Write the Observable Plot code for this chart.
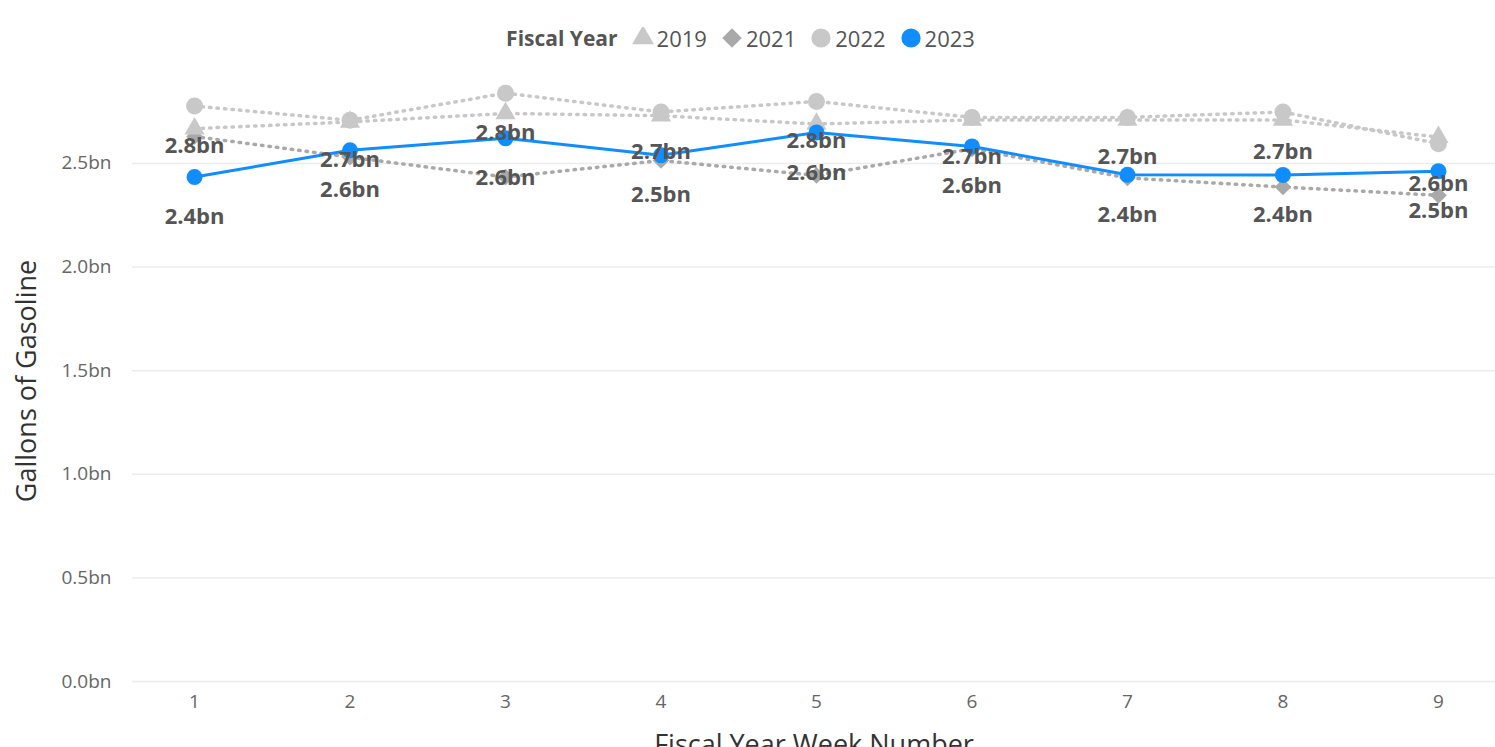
<!DOCTYPE html>
<html><head><meta charset="utf-8">
<script src="https://cdn.jsdelivr.net/npm/d3@7"></script>
<script src="https://cdn.jsdelivr.net/npm/@observablehq/plot@0.6"></script>
<style>
body{margin:0;background:#fff;font-family:"Open Sans",sans-serif;overflow:hidden;}
#legend{box-sizing:border-box;height:60px;padding-top:16px;display:flex;justify-content:center;align-items:flex-start;color:#555;font-size:21px;}
#legend .inner{height:44px;display:flex;align-items:center;gap:0;}
#legend .title{font-weight:bold;margin-right:14px;}
#legend .item{display:flex;align-items:center;margin-right:14px;}
#legend .item span{font-size:22px;}
#legend svg{margin-right:3px;}
</style></head><body>
<div id="legend"><div class="inner"></div></div>
<div id="chart"></div>
<script>
const weeks = [1, 2, 3, 4, 5, 6, 7, 8, 9];
const fy2019 = [2.668, 2.700, 2.741, 2.730, 2.690, 2.710, 2.710, 2.710, 2.627];
const fy2021 = [2.630, 2.530, 2.434, 2.514, 2.442, 2.570, 2.430, 2.386, 2.346];
const fy2022 = [2.777, 2.708, 2.839, 2.748, 2.799, 2.722, 2.722, 2.748, 2.595];
const fy2023 = [2.434, 2.563, 2.621, 2.539, 2.649, 2.582, 2.445, 2.444, 2.462];
const yTicks = [0, 0.5, 1.0, 1.5, 2.0, 2.5];
const seriesNames = ["2019", "2021", "2022", "2023"];
const seriesColors = ["#c8c8c8", "#a9a9a9", "#c8c8c8", "#118DFF"];
const seriesSymbols = ["triangle", "diamond2", "circle", "circle"];

const rows = (name, vals) => weeks.map((w, i) => ({week: w, value: vals[i], year: name}));
const d19 = rows("2019", fy2019), d21 = rows("2021", fy2021), d22 = rows("2022", fy2022), d23 = rows("2023", fy2023);
const fmt = v => v.toFixed(1) + "bn";

// legend
const inner = document.querySelector("#legend .inner");
const t = document.createElement("span"); t.className = "title"; t.textContent = "Fiscal Year"; inner.appendChild(t);
const symMap = {triangle: d3.symbolTriangle, diamond2: d3.symbolDiamond2, circle: d3.symbolCircle};
seriesNames.forEach((n, i) => {
  const it = document.createElement("span"); it.className = "item";
  const size = seriesSymbols[i] === "circle" ? 290 : (seriesSymbols[i] === "triangle" ? 210 : 240);
  it.innerHTML = `<svg width="22" height="22" viewBox="-11 -11 22 22"><path d="${d3.symbol(symMap[seriesSymbols[i]], size)()}" fill="${seriesColors[i]}"/></svg><span>${n}</span>`;
  inner.appendChild(it);
});

const dotted = {strokeWidth: 3.5, strokeDasharray: "1.5,6", strokeLinecap: "round"};
const chart = Plot.plot({
  width: 1495,
  height: 687,
  marginLeft: 132,
  marginRight: 0,
  marginTop: 20,
  marginBottom: 66,
  style: {fontFamily: "Open Sans, sans-serif", background: "#fff", overflow: "visible"},
  x: {domain: [0.601, 9.367], ticks: weeks, tickFormat: d => String(d)},
  y: {domain: [0, 2.9], ticks: yTicks, tickFormat: fmt},
  marks: [
    Plot.gridY(yTicks, {stroke: "#ececec", strokeOpacity: 1, strokeWidth: 1.5}),
    Plot.axisY(yTicks, {tickSize: 0, tickPadding: 21, tickFormat: fmt, fontSize: 19, fill: "#666",
      label: "Gallons of Gasoline", labelAnchor: "center", labelOffset: 116, labelArrow: "none"}),
    Plot.axisX(weeks, {tickSize: 0, tickPadding: 13, tickFormat: d => String(d), fontSize: 19, fill: "#666",
      label: "Fiscal Year Week Number", labelAnchor: "center", labelOffset: 72, labelArrow: "none"}),
    Plot.line(d21, {x: "week", y: "value", stroke: seriesColors[1], ...dotted}),
    Plot.line(d19, {x: "week", y: "value", stroke: seriesColors[0], ...dotted}),
    Plot.line(d22, {x: "week", y: "value", stroke: seriesColors[2], ...dotted}),
    Plot.dot(d21, {x: "week", y: "value", symbol: "diamond2", r: 7.5, fill: seriesColors[1]}),
    Plot.dot(d19, {x: "week", y: "value", symbol: "triangle", r: 7.5, fill: seriesColors[0]}),
    Plot.dot(d22, {x: "week", y: "value", symbol: "circle", r: 8.5, fill: seriesColors[2]}),
    Plot.line(d23, {x: "week", y: "value", stroke: seriesColors[3], strokeWidth: 3}),
    Plot.dot(d23, {x: "week", y: "value", symbol: "circle", r: 8, fill: seriesColors[3]}),
    Plot.text(d22, {x: "week", y: "value", text: d => fmt(d.value), dy: 40, fontSize: 22, fontWeight: "bold", fill: "#555"}),
    Plot.text(d23, {x: "week", y: "value", text: d => fmt(d.value), dy: 40, fontSize: 22, fontWeight: "bold", fill: "#555"})
  ]
});
document.getElementById("chart").appendChild(chart);
chart.querySelectorAll("g[aria-label='y-axis label'] text, g[aria-label='x-axis label'] text").forEach(el => {
  el.setAttribute("font-size", "27"); el.setAttribute("fill", "#333");
});
</script>
</body></html>
